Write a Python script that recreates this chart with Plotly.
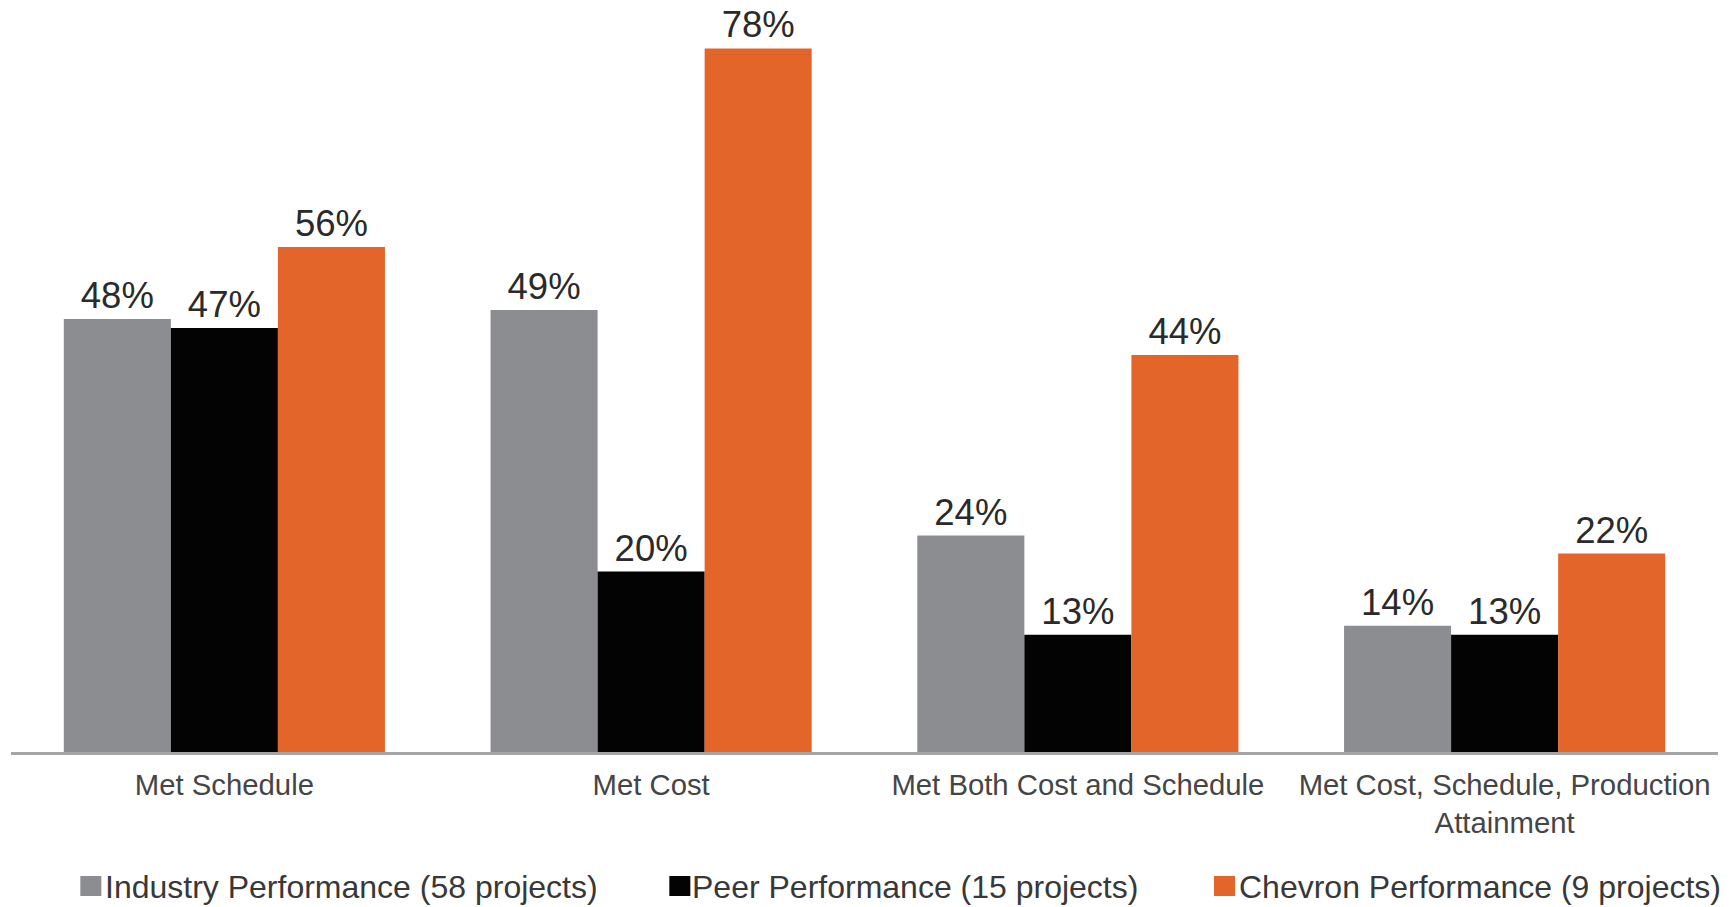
import plotly.graph_objects as go

# Project performance outcomes (share of projects, %)
categories = [
    "Met Schedule",
    "Met Cost",
    "Met Both Cost and Schedule",
    "Met Cost, Schedule, Production<br>Attainment",
]
series_names = [
    "Industry Performance (58 projects)",
    "Peer Performance (15 projects)",
    "Chevron Performance (9 projects)",
]
industry = [48, 49, 24, 14]
peer = [47, 20, 13, 13]
chevron = [56, 78, 44, 22]
series_values = [industry, peer, chevron]
series_colors = ["#8B8D91", "#030303", "#E4652A"]

W, H = 1732, 907
M_L, M_R, M_T, M_B = 11.4, 14.2, 0, 155
PLOT_W = W - M_L - M_R
PLOT_H = H - M_T - M_B
Y_MAX = PLOT_H / 9.02  # vertical scale: ~9 px per percentage point

FONT = "Liberation Sans, Arial, Helvetica, sans-serif"

fig = go.Figure()
for name, vals, col in zip(series_names, series_values, series_colors):
    fig.add_trace(go.Bar(
        x=categories,
        y=vals,
        name=name,
        marker=dict(color=col, line=dict(width=0)),
        text=[f"{v}%" for v in vals],
        textposition="outside",
        constraintext="none",
        cliponaxis=False,
        textfont=dict(family=FONT, size=36.5, color="#2a2a2a"),
        showlegend=False,
        hoverinfo="skip",
    ))


def px_to_paper_x(px):
    return (px - M_L) / PLOT_W


def px_to_paper_y(py):
    return (M_T + PLOT_H - py) / PLOT_H


# Legend row drawn as swatches plus labels
legend_square_x = [80.7, 669.5, 1214.0]
legend_text_x = [103.5, 690.5, 1236.5]
sq_top, sq_bot = 876, 896
shapes = []
annotations = []
for i, (name, col) in enumerate(zip(series_names, series_colors)):
    x0 = legend_square_x[i]
    shapes.append(dict(
        type="rect", xref="paper", yref="paper",
        x0=px_to_paper_x(x0), x1=px_to_paper_x(x0 + 21),
        y0=px_to_paper_y(sq_bot), y1=px_to_paper_y(sq_top),
        fillcolor=col, line=dict(width=0), layer="above",
    ))
    annotations.append(dict(
        text=name, xref="paper", yref="paper",
        x=px_to_paper_x(legend_text_x[i]), y=px_to_paper_y(887),
        xanchor="left", yanchor="middle", showarrow=False,
        font=dict(family=FONT, size=32, color="#383838"),
    ))

fig.update_layout(
    width=W, height=H,
    margin=dict(l=M_L, r=M_R, t=M_T, b=M_B, pad=0),
    paper_bgcolor="white",
    plot_bgcolor="white",
    barmode="group",
    bargap=0.2475,
    bargroupgap=0,
    showlegend=False,
    shapes=shapes,
    annotations=annotations,
    font=dict(family=FONT),
    xaxis=dict(
        showline=True, linecolor="#A6A6A6", linewidth=3,
        ticks="", showgrid=False, zeroline=False,
        tickfont=dict(family=FONT, size=29.3, color="#454545"),
        ticklabelstandoff=5,
    ),
    yaxis=dict(
        range=[0, Y_MAX], visible=False, showgrid=False, zeroline=False,
    ),
)

fig.write_html("out.html")
